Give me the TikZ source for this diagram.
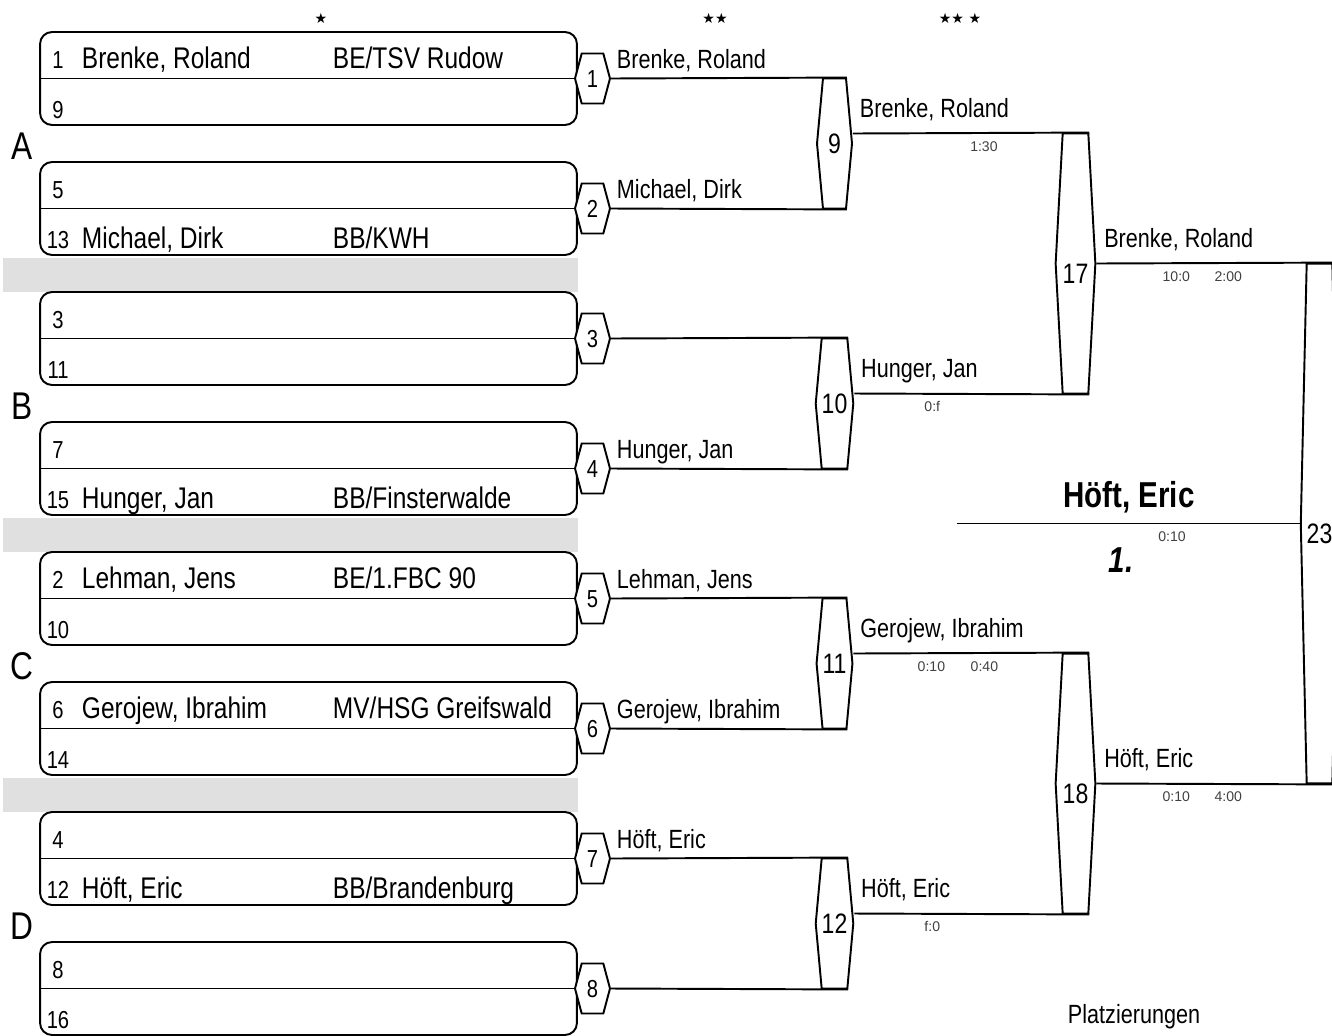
\documentclass[tikz,border=0pt]{standalone}
\usepackage{fontspec}
\setmainfont[FakeStretch=0.82]{Liberation Sans}
\newfontfamily\scorefont{Liberation Sans}
\newfontfamily\starfont{DejaVu Sans}
\usetikzlibrary{positioning}
\usetikzlibrary{calc,shapes.symbols}
\definecolor{bargray}{HTML}{E0E0E0}
\newcommand*{\xSeed}{58}
\newcommand*{\xName}{81}
\newcommand*{\xClub}{332}

\begin{document}
\begin{tikzpicture}[x=0.02cm,y=-0.02cm,line width=1.1pt,
    pbox/.style={draw,rounded corners=0.24cm,minimum width=10.74cm,minimum height=1.86cm,inner sep=0},
    hexa/.style={draw,fill=white,signal,signal to=east and west,inner sep=0,minimum width=0.7cm},
    hexone/.style={hexa,minimum height=1cm,signal pointer angle=150,text height=0.34cm,text depth=0pt,font=\fontsize{14}{16}\selectfont},
    hextwo/.style={hexa,minimum height=2.6cm,signal pointer angle=169.5,font=\fontsize{16}{18}\selectfont},
    hexthree/.style={hexa,minimum height=5.2cm,signal pointer angle=173.8,text height=0.8cm,text depth=0pt,font=\fontsize{16}{18}\selectfont},
    hexfinal/.style={hexthree,minimum height=10.4cm,signal pointer angle=177.4},
    seed/.style={anchor=base,inner sep=0,font=\fontsize{14}{16}\selectfont},
    plname/.style={anchor=base west,inner sep=0,font=\fontsize{17}{19}\selectfont},
    lbl/.style={anchor=base west,inner sep=0,font=\fontsize{15}{17}\selectfont},
    score/.style={inner sep=0,text=black!75,font=\scorefont\fontsize{8}{9}\selectfont},
    group/.style={anchor=base,inner sep=0,font=\fontsize{22}{24}\selectfont},
    champname/.style={anchor=base,inner sep=0,font=\bfseries\fontsize{20.5}{23}\selectfont},
    stars/.style={inner sep=0,font=\starfont\fontsize{8}{9}\selectfont}]
\useasboundingbox (0,0) rectangle (1332,1035);

% gray separators
\foreach \k in {0,1,2}
  \fill[bargray] (3,{258+260*\k}) rectangle (578,{292+260*\k});

% entry boxes
\foreach \i/\s/\t in {0/1/9,1/5/13,2/3/11,3/7/15,4/2/10,5/6/14,6/4/12,7/8/16}{
  \node[pbox] (b\i) at (308.5,{78.5+130*\i}) {};
  \draw (b\i.west) -- (b\i.east);
  \node[seed] (s\s) at (\xSeed,{68+130*\i}) {\s};
  \node[seed] (s\t) at (\xSeed,{118+130*\i}) {\t};
}
\node[plname] (p1) at (\xName,68) {Brenke, Roland};
\node[plname] (c1) at (\xClub,68) {BE/TSV Rudow};
\node[plname] (p13) at (\xName,248) {Michael, Dirk};
\node[plname] (c13) at (\xClub,248) {BB/KWH};
\node[plname] (p15) at (\xName,508) {Hunger, Jan};
\node[plname] (c15) at (\xClub,508) {BB/Finsterwalde};
\node[plname] (p2) at (\xName,588) {Lehman, Jens};
\node[plname] (c2) at (\xClub,588) {BE/1.FBC 90};
\node[plname] (p6) at (\xName,718) {Gerojew, Ibrahim};
\node[plname] (c6) at (\xClub,718) {MV/HSG Greifswald};
\node[plname] (p12) at (\xName,898) {Höft, Eric};
\node[plname] (c12) at (\xClub,898) {BB/Brandenburg};

\foreach \g [count=\k from 0] in {A,B,C,D}
  \node[group] (grp\g) at (22,{159+260*\k}) {\g};

\node[stars] (st1) at (321,18) {★};
\node[stars] (st2) at (715,18) {★★};
\node[stars] (st3) at (960,18) {★★ ★};

% match markers
\foreach \n in {1,...,8}
  \node[hexone] (h\n) at (592.5,{78.5+130*(\n-1)}) {\n};
\foreach \n [count=\k from 0] in {9,...,12}
  \node[hextwo] (h\n) at (834.5,{143.5+260*\k}) {\n};
\node[hexthree] (h17) at (1075.5,263.5) {17};
\node[hexthree] (h18) at (1075.5,783.5) {18};
\node[hexfinal] (h23) at (1319.5,523.5) {23};

% connectors
\foreach \a/\b in {1/9,3/10,5/11,7/12}
  \draw (h\a.east) -- (h\b.north east);
\foreach \a/\b in {2/9,4/10,6/11,8/12}
  \draw (h\a.east) -- (h\b.south east);
\draw ([yshift=0.2cm]h9.east) -- (h17.north east);
\draw ([yshift=0.2cm]h10.east) -- (h17.south east);
\draw ([yshift=0.2cm]h11.east) -- (h18.north east);
\draw ([yshift=0.2cm]h12.east) -- (h18.south east);
\draw (h17.east) -- (h23.north east);
\draw (h18.east) -- (h23.south east);
\coordinate (champ) at (957,523.5);
\draw (h23.west) -- (champ);

% winners and results
\foreach \n/\who in {1/{Brenke, Roland},2/{Michael, Dirk},4/{Hunger, Jan},5/{Lehman, Jens},6/{Gerojew, Ibrahim},7/{Höft, Eric}}
  \node[lbl] (w\n) at ([xshift=0.1cm,yshift=0.2cm]h\n.east) {\who};
\foreach \n/\who in {9/{Brenke, Roland},10/{Hunger, Jan},11/{Gerojew, Ibrahim},12/{Höft, Eric}}
  \node[lbl] (w\n) at ([xshift=0.12cm,yshift=0.52cm]h\n.east) {\who};
\node[lbl] (w17) at ([xshift=0.14cm,yshift=0.32cm]h17.east) {Brenke, Roland};
\node[lbl] (w18) at ([xshift=0.14cm,yshift=0.32cm]h18.east) {Höft, Eric};

\node[score] (r9) at ([xshift=2.62cm,yshift=-0.06cm]h9.east) {1:30};
\node[score] (r10) at ([xshift=1.56cm,yshift=-0.06cm]h10.east) {0:f};
\node[score] (r11a) at ([xshift=1.56cm,yshift=-0.06cm]h11.east) {0:10};
\node[score] (r11b) at ([xshift=2.62cm,yshift=-0.06cm]h11.east) {0:40};
\node[score] (r12) at ([xshift=1.56cm,yshift=-0.06cm]h12.east) {f:0};
\node[score] (r17a) at ([xshift=1.6cm,yshift=-0.26cm]h17.east) {10:0};
\node[score] (r17b) at ([xshift=2.64cm,yshift=-0.26cm]h17.east) {2:00};
\node[score] (r18a) at ([xshift=1.6cm,yshift=-0.26cm]h18.east) {0:10};
\node[score] (r18b) at ([xshift=2.64cm,yshift=-0.26cm]h18.east) {4:00};

\node[champname] (winner) at (1129,507) {Höft, Eric};
\node[score] (r23) at (1172,537) {0:10};
\node[champname] (rank) at (1121,572) {\itshape 1.};
\node[lbl] (placings) at (1067,1023) {Platzierungen};
\end{tikzpicture}
\end{document}
